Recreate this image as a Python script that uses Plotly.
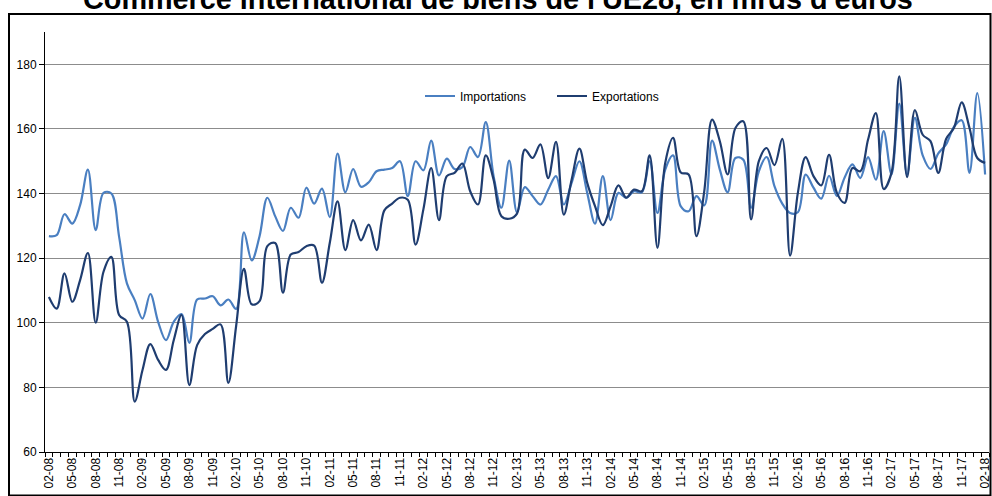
import plotly.graph_objects as go

title_text = "Commerce international de biens de l'UE28, en mrds d'euros"

# monthly categories 02-08 .. 02-18
start_year, start_month, n_months = 2008, 2, 121
months = []
for k in range(n_months):
    m = (start_month - 1 + k) % 12 + 1
    y = start_year + (start_month - 1 + k) // 12
    months.append(f"{m:02d}-{y % 100:02d}")

importations = [
    126.8, 127.1, 133.6, 130.7, 136.4, 147.4, 128.7, 140.2, 140.0, 126.6,
    112.2, 107.0, 101.3, 108.9, 100.3, 94.6, 100.3, 102.7, 93.8, 107.2,
    107.5, 108.2, 105.4, 107.2, 104.3, 128.0, 119.3, 126.8, 138.7, 133.0,
    128.4, 135.6, 132.5, 141.8, 136.9, 141.5, 132.7, 152.4, 140.4, 147.6,
    142.1, 143.5, 146.9, 147.4, 147.9, 150.0, 139.2, 150.0, 147.2, 156.4,
    145.6, 150.8, 147.6, 148.2, 154.4, 151.3, 162.1, 145.4, 135.6, 150.2,
    134.2, 142.0, 139.2, 136.6, 141.2, 145.4, 136.6, 143.3, 150.0, 140.2,
    130.7, 145.4, 131.8, 140.2, 138.7, 140.7, 140.4, 150.0, 134.0, 147.4,
    151.8, 136.0, 134.5, 139.2, 136.3, 156.4, 147.4, 140.4, 151.0, 150.5,
    135.6, 146.9, 151.3, 142.3, 136.9, 134.0, 134.2, 145.9, 141.8, 138.4,
    145.5, 139.2, 145.0, 149.0, 144.8, 151.3, 144.3, 159.3, 145.9, 167.8,
    145.9, 163.4, 151.8, 147.6, 152.4, 155.2, 160.6, 162.7, 146.4, 171.1,
    145.9,
]

exportations = [
    108.0, 104.4, 115.3, 106.5, 113.2, 121.6, 100.0, 115.8, 120.4, 102.4,
    100.3, 75.6, 85.4, 93.4, 88.5, 85.4, 94.6, 102.4, 80.7, 93.1,
    96.5, 98.1, 99.5, 81.4, 99.0, 116.7, 105.7, 106.7, 123.7, 124.7,
    109.3, 121.1, 121.9, 123.7, 123.9, 112.4, 124.7, 137.6, 122.5, 131.8,
    125.5, 130.4, 122.5, 134.8, 136.9, 138.7, 138.1, 124.2, 135.1, 147.9,
    131.8, 145.4, 146.4, 149.3, 140.7, 136.6, 151.8, 144.3, 133.0, 132.2,
    133.8, 153.6, 151.0, 155.2, 144.8, 156.0, 133.5, 144.3, 153.9, 143.3,
    136.1, 130.2, 136.1, 142.5, 138.7, 141.2, 140.7, 151.8, 123.2, 149.5,
    157.2, 146.5, 145.9, 126.8, 140.7, 162.9, 156.2, 145.9, 160.3, 162.4,
    132.0, 150.0, 154.1, 148.8, 156.9, 120.8, 140.2, 151.3, 145.4, 142.5,
    152.0, 140.2, 137.1, 147.9, 146.9, 156.7, 164.9, 141.4, 146.4, 176.3,
    145.1, 165.8, 158.2, 156.2, 146.4, 156.9, 160.3, 168.2, 160.3, 151.0,
    149.5,
]

y_ticks = [60, 80, 100, 120, 140, 160, 180]

x = list(range(len(months)))
label_idx = list(range(0, len(months), 3))

FONT = "Arial, Liberation Sans, sans-serif"
C_IMP = "#4a7fc1"
C_EXP = "#1f3d70"

fig = go.Figure()
fig.add_trace(go.Scatter(x=x, y=importations, name="Importations", mode="lines",
                         line=dict(color=C_IMP, width=2.2, shape="spline", smoothing=1.0)))
fig.add_trace(go.Scatter(x=x, y=exportations, name="Exportations", mode="lines",
                         line=dict(color=C_EXP, width=2.2, shape="spline", smoothing=1.0)))

W, H = 992, 496
L, R, T, B = 45, 3, 32, 44
pw, ph = W - L - R, H - T - B

def px2paper_x(p):
    return (p - L) / pw

def px2paper_y(p):
    return (H - B - p) / ph

fig.update_layout(
    width=W, height=H,
    margin=dict(l=L, r=R, t=T, b=B, pad=0, autoexpand=False),
    paper_bgcolor="white", plot_bgcolor="white",
    font=dict(family=FONT, size=12, color="black"),
    showlegend=True,
    legend=dict(orientation="h", x=px2paper_x(420), y=px2paper_y(96),
                xanchor="left", yanchor="middle", bgcolor="rgba(0,0,0,0)",
                font=dict(size=12, family=FONT), entrywidth=87, entrywidthmode="pixels",
                itemwidth=30),
    xaxis=dict(
        range=[-0.5, len(months) - 0.5],
        tickmode="array", tickvals=label_idx, ticktext=[months[i] for i in label_idx],
        tickangle=-90, ticks="", showgrid=False, zeroline=False,
        showline=True, linecolor="black", linewidth=1,
        tickfont=dict(size=12, family=FONT), automargin=False,
        minor=dict(tickmode="array", tickvals=[i - 0.5 for i in range(len(months) + 1)],
                   ticks="outside", ticklen=4, tickcolor="black", tickwidth=1, showgrid=False),
    ),
    yaxis=dict(
        range=[60, 190], tickmode="array", tickvals=y_ticks,
        ticks="outside", ticklen=5, tickcolor="black", tickwidth=1,
        showgrid=True, gridcolor="#8c8c8c", gridwidth=1, zeroline=False,
        showline=True, linecolor="black", linewidth=1,
        tickfont=dict(size=12, family=FONT), automargin=False,
    ),
    annotations=[dict(text="<b>" + title_text + "</b>", xref="paper", yref="paper",
                      x=px2paper_x(498), y=px2paper_y(-1), xanchor="center", yanchor="middle",
                      showarrow=False, font=dict(size=28.8, family=FONT, color="black"))],
    shapes=[dict(type="rect", xref="paper", yref="paper",
                 x0=px2paper_x(9), x1=px2paper_x(990.5), y0=px2paper_y(495.5), y1=px2paper_y(14),
                 line=dict(color="black", width=2), fillcolor="rgba(0,0,0,0)", layer="above")],
)

fig.write_html("out.html", config={"displayModeBar": False},
               post_script="document.body.style.margin='0';document.body.style.overflow='hidden';")
